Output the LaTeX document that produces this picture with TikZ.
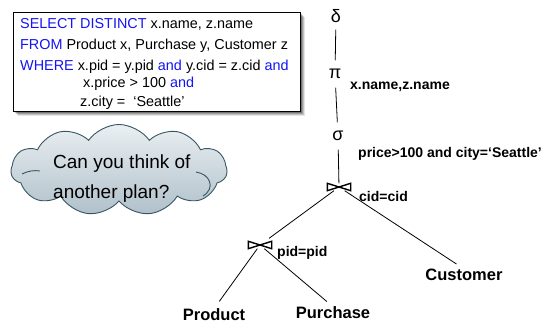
\documentclass[tikz,border=0pt]{standalone}
\usepackage{fontspec}
\setmainfont{Liberation Sans}
\usetikzlibrary{shapes.symbols}
\definecolor{sqlblue}{RGB}{20,20,245}
\definecolor{cloudtop}{RGB}{234,239,242}
\definecolor{cloudbot}{RGB}{176,192,202}
\definecolor{cloudline}{RGB}{55,85,100}
\tikzset{
  sql/.style={anchor=base west, inner sep=0, font=\fontsize{14.4}{17}\selectfont},
  greek/.style={circle, inner sep=0, minimum size=27, font=\fontsize{18}{20}\selectfont},
  joinop/.style={rectangle, inner sep=0, minimum width=23, minimum height=7},
  rel/.style={inner sep=0, font=\bfseries\fontsize{16.5}{19}\selectfont},
  cond/.style={anchor=west, inner sep=0, font=\bfseries\fontsize{14}{16}\selectfont},
  edge/.style={draw=black, line width=0.8pt},
  bowtie/.style={line width=1.4pt, line join=miter},
  puffline/.style={draw=cloudline, line width=0.9pt},
}
\begin{document}
\begin{tikzpicture}[x=1pt,y=-1pt]
\useasboundingbox (0,0) rectangle (550,326);

% soft shadow behind the query box
\foreach \s/\o in {5/0.10,4/0.15,3/0.2,2/0.25}
  \fill[black,opacity=\o] (13+\s,12+\s) rectangle (300+\s,111+\s);
\node[draw=black, line width=0.9pt, fill=white, inner sep=0, minimum width=287, minimum height=99, anchor=north west] (query) at (13,12) {};

\node[sql] (l1) at (20,29) {\textcolor{sqlblue}{SELECT DISTINCT} x.name, z.name};
\node[sql] (l2) at (20,50) {\textcolor{sqlblue}{FROM} Product x, Purchase y, Customer z};
\node[sql] (l3) at (20,71) {\textcolor{sqlblue}{WHERE} x.pid = y.pid \textcolor{sqlblue}{and} y.cid = z.cid \textcolor{sqlblue}{and}};
\node[sql] (l4) at (83,88) {x.price > 100 \textcolor{sqlblue}{and}};
\node[sql] (l5) at (80,107) {z.city =\ \ ‘Seattle’};

% thought cloud
\node[cloud, cloud puffs=11, cloud puff arc=110,
      minimum width=216, minimum height=91, inner sep=0,
      draw=cloudline, line width=0.9pt, top color=cloudtop, bottom color=cloudbot] (cloud) at (119,170) {};
% inner puff strokes
\draw[puffline] (196,172) .. controls (210,174) and (216,188) .. (203,196);
\draw[puffline] (22,174) .. controls (28,171) and (34,170) .. (40,171);
\node[anchor=base west, inner sep=0, align=left, font=\fontsize{19}{30}\selectfont] (ask) at (53,199)
  {Can you think of\\another plan?};

% operator tree
\node[greek] (delta) at (336,16) {δ};
\node[greek] (pi) at (335,74) {π};
\node[greek] (sigma) at (338,136) {σ};
\node[joinop] (j1) at (339,187) {};
\node[joinop] (j2) at (260,245) {};
\draw[bowtie] (j1.north west) -- (j1.south east) -- (j1.north east) -- (j1.south west) -- cycle;
\draw[bowtie] (j2.north west) -- (j2.south east) -- (j2.north east) -- (j2.south west) -- cycle;

\node[rel] (cust) at (464,275) {Customer};
\node[rel] (prod) at (214,315) {Product};
\node[rel] (purch) at (333,313) {Purchase};

\path[edge] (delta) -- (pi);
\path[edge] (pi) -- (sigma);
\path[edge] (sigma) -- (j1);
\path[edge, shorten >=5] (j1) -- (j2);
\path[edge, shorten >=9] (j1) -- (cust.north);
\path[edge, shorten >=9] (j2) -- (prod.north);
\path[edge, shorten >=8] (j2) -- (purch.north);

\node[cond] (proj) at (350,87) {x.name,z.name};
\node[cond] (sel) at (358,154) {price>100 and city=‘Seattle’};
\node[cond] (jc1) at (359,196) {cid=cid};
\node[cond] (jc2) at (277,253) {pid=pid};
\end{tikzpicture}
\end{document}
